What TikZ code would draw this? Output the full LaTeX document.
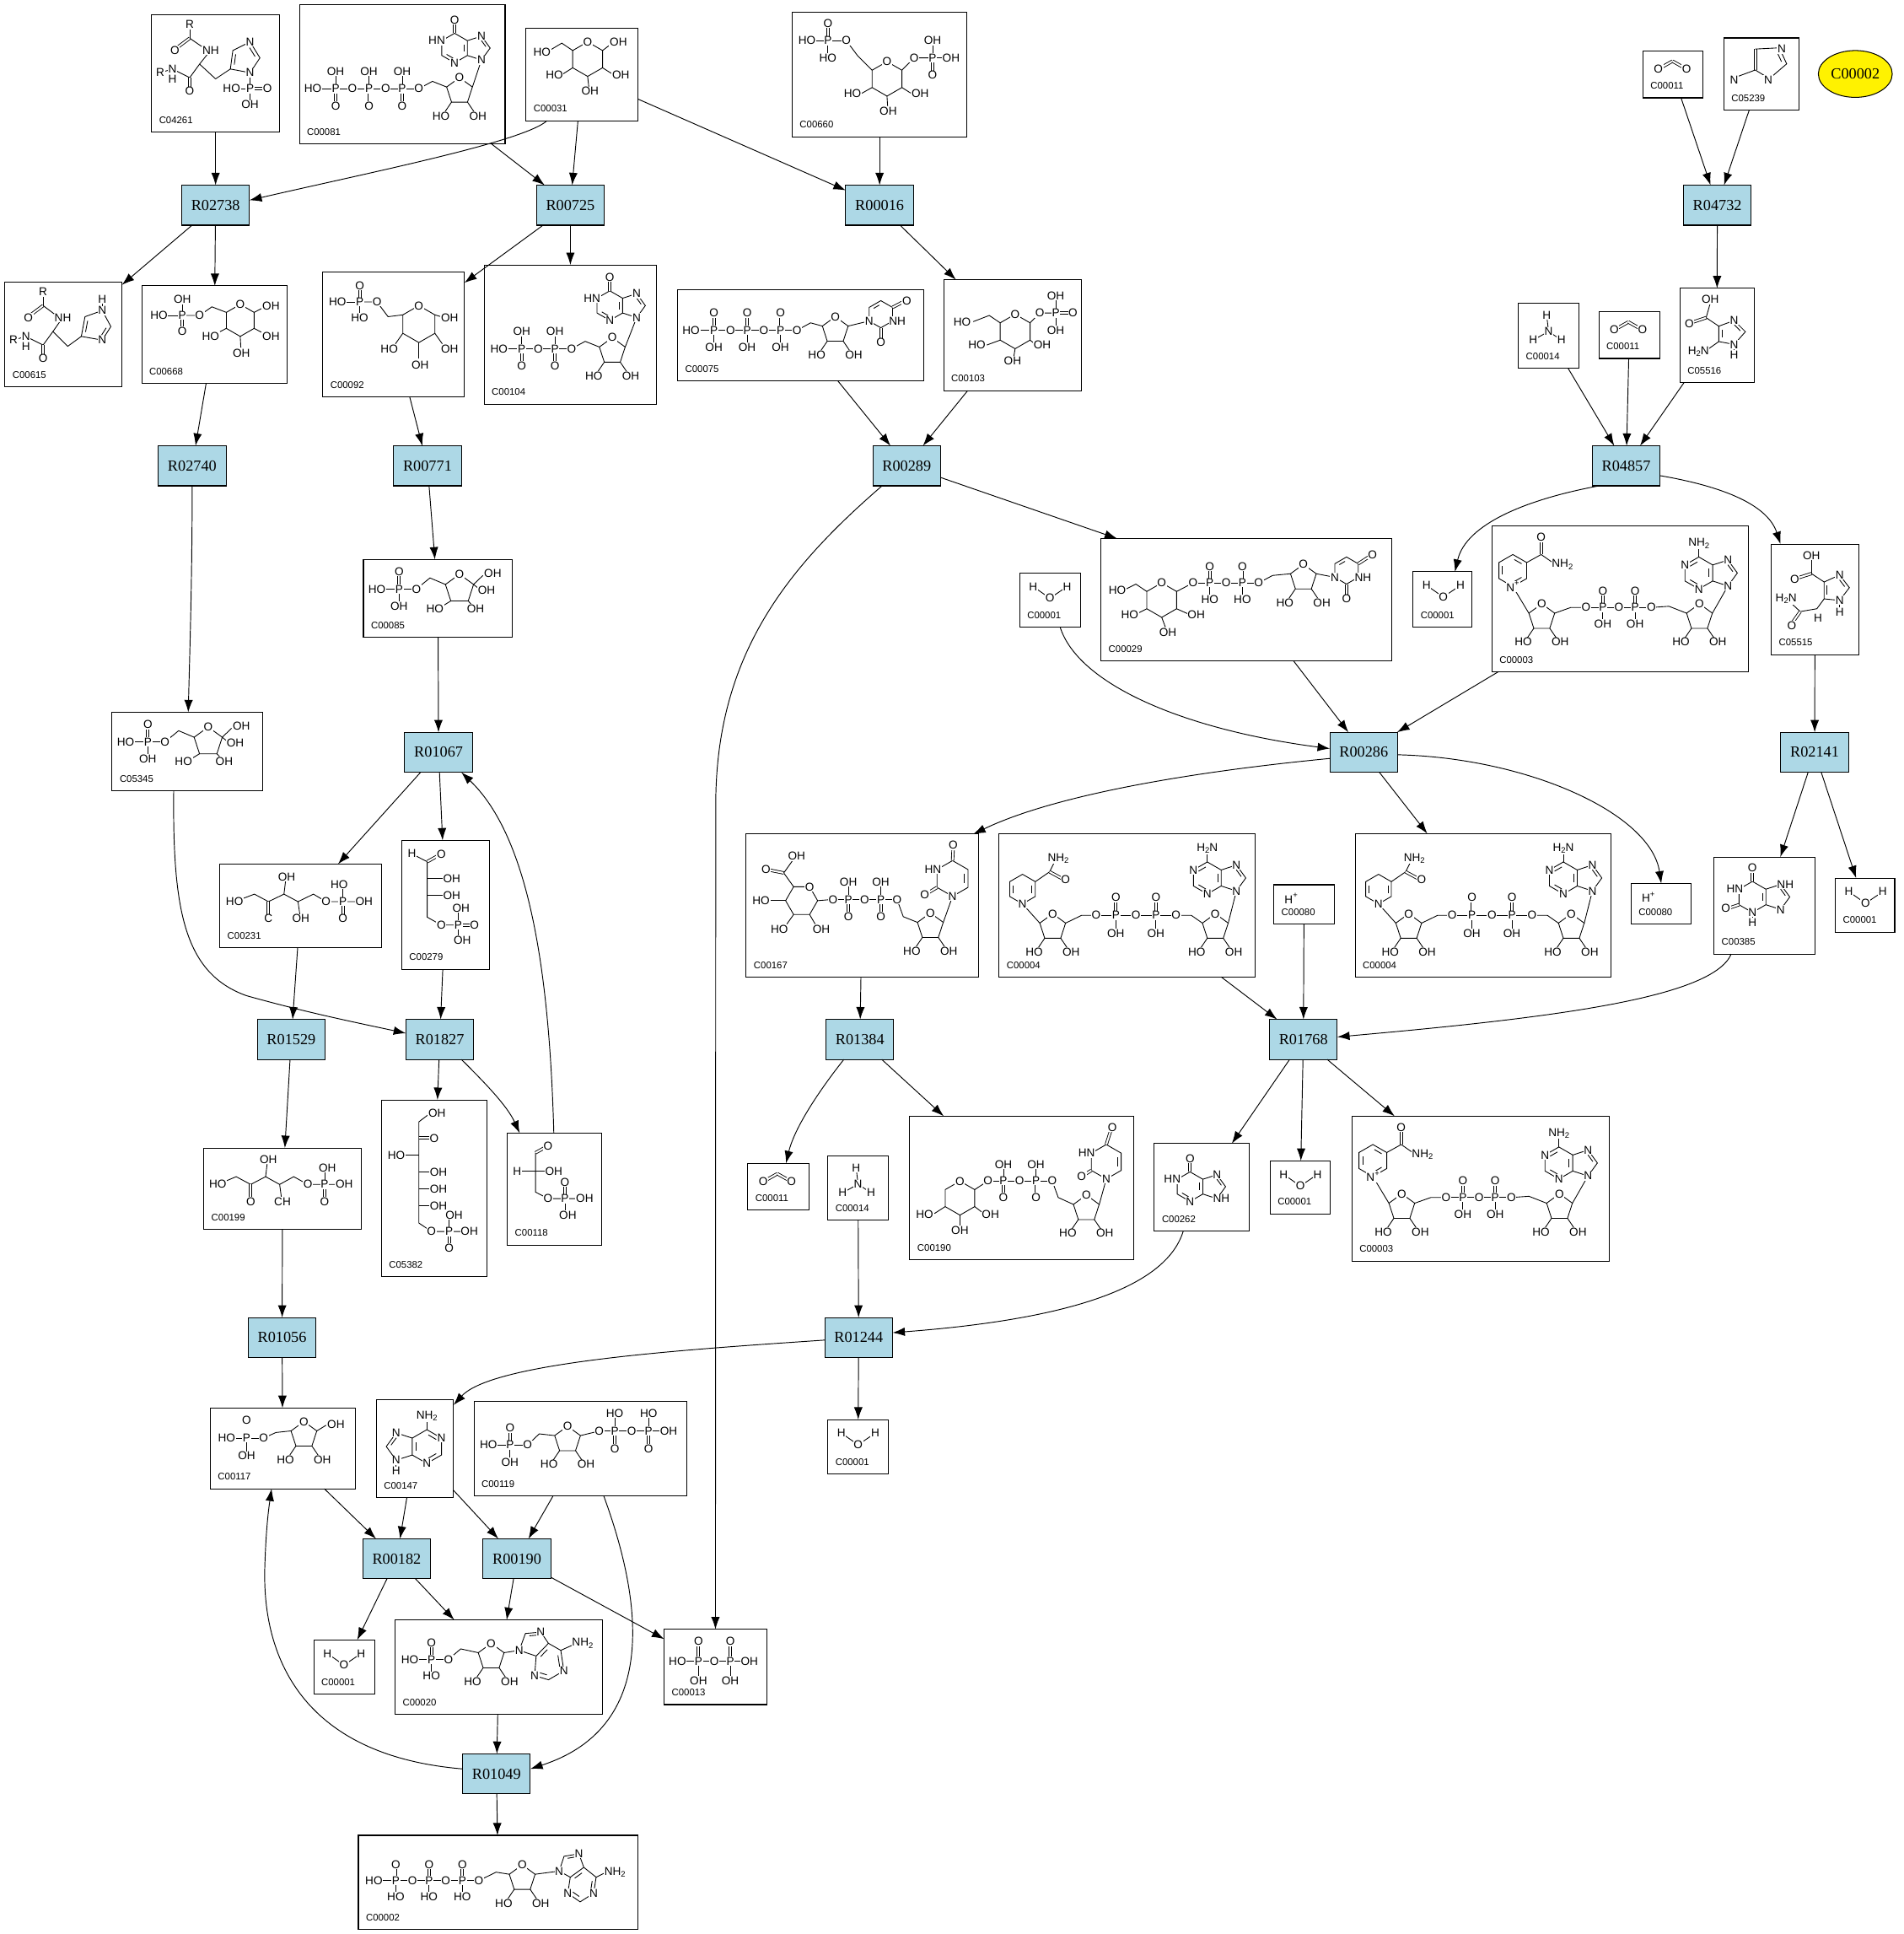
\documentclass[tikz,border=0pt]{standalone}
\usepackage{fontspec}
\setmainfont{Liberation Serif}
\newfontfamily\atomfam{Liberation Sans}
\usetikzlibrary{arrows.meta,calc,shapes.geometric}
\definecolor{rxnblue}{HTML}{ADD8E6}
\tikzset{
  atom/.style={font=\atomfam\fontsize{9.3}{9.3}\selectfont, inner sep=0.5pt, fill=white},
  bond/.style={line width=0.6pt},
  cbox/.style={draw, line width=0.7pt, inner sep=0pt, outer sep=0pt},
  cid/.style={font=\atomfam\fontsize{7.8}{7.8}\selectfont, inner sep=0pt},
  rxn/.style={draw, line width=0.7pt, fill=rxnblue, minimum width=55pt, minimum height=32.5pt, inner sep=0pt, outer sep=0pt, font=\fontsize{12.5}{12.5}\selectfont},
  edge/.style={line width=0.65pt, -{Latex[length=10pt,width=7pt]}},
}
\newcommand\subs[1]{\raisebox{-0.35ex}{\fontsize{6.5}{6.5}\selectfont #1}}
\newcommand\sups[1]{\raisebox{0.9ex}{\fontsize{6.5}{6.5}\selectfont #1}}
\newcommand\realA[3]{\node[atom] at ({#1},{#2}) {#3};}
\newcommand\realAw[3]{\node[atom,anchor=west] at ({#1},{#2}) {#3};}
\newcommand\realAe[3]{\node[atom,anchor=east] at ({#1},{#2}) {#3};}
\newcommand\realB[1]{\draw[bond] #1;}
\newcommand\realBi[1]{\draw[bond,shorten <=1.4pt,shorten >=1.4pt] #1;}
\newcommand\realBD[1]{\draw[bond,double,double distance=1.4pt] #1;}
\def\gobthree#1#2#3{}
\def\gobone#1{}
\let\A\realA \let\Aw\realAw \let\Ae\realAe \let\B\realB \let\BD\realBD \let\Bi\realBi
\newcommand\drawmol[3]{\begin{scope}[shift={(#1,#2)}]%
  \let\A\gobthree\let\Aw\gobthree\let\Ae\gobthree\let\B\realB\let\BD\realBD\let\Bi\realBi #3%
  \let\A\realA\let\Aw\realAw\let\Ae\realAe\let\B\gobone\let\BD\gobone\let\Bi\gobone #3%
  \end{scope}}
\newcommand\hexr[3]{\B{(#1,#2) +(-90:#3) -- +(-30:#3) -- +(30:#3) -- +(90:#3) -- +(150:#3) -- +(210:#3) -- cycle}}
\newcommand\hexf[3]{\B{(#1,#2) +(0:#3) -- +(60:#3) -- +(120:#3) -- +(180:#3) -- +(240:#3) -- +(300:#3) -- cycle}}
\newcommand\pentr[3]{\B{(#1,#2) +(-90:#3) -- +(-18:#3) -- +(54:#3) -- +(126:#3) -- +(198:#3) -- cycle}}
% inner (aromatic) line of a pointy-top hexagon edge from angle #4 to #4+60
\newcommand\hexin[4]{\Bi{($(#1,#2)+(#4:{0.74*#3})$) -- ($(#1,#2)+({#4+60}:{0.74*#3})$)}}
% inner line of edge (#1,#2)-(#3,#4) toward centre (#5,#6)
\newcommand\segin[6]{\Bi{($(#1,#2)!0.26!(#5,#6)$) -- ($(#3,#4)!0.26!(#5,#6)$)}}
\def\lblO{O}
\def\lastlabel{O}
\def\lastshift{0}
\newcommand\pvert[5]{%
  \def\tmpa{#4}\ifx\tmpa\lblO\BD{({#1},{#2})--({#1},{#2-#3})}\else\B{({#1},{#2})--({#1},{#2-#3})}\fi
  \def\tmpa{#5}\ifx\tmpa\lblO\BD{({#1},{#2})--({#1},{#2+#3})}\else\B{({#1},{#2})--({#1},{#2+#3})}\fi
  \A{#1}{#2}{P}\A{#1}{#2-#3}{#4}\A{#1}{#2+#3}{#5}}
% xfirst xP1 y n spacing first top bottom dy
\newcommand\pchain[9]{%
  \B{({#1},{#3})--({#2+#5*(#4-1)+#5/2},{#3})}%
  \A{#1}{#3}{#6}%
  \foreach \kk in {1,...,#4}{%
    \pgfmathsetmacro\px{#2+#5*(\kk-1)}%
    \pgfmathsetmacro\ox{#2+#5*(\kk-1)+#5/2}%
    \pvert{\px}{#3}{#9}{#7}{#8}%
    \ifnum\kk=#4\relax\A{\ox+\lastshift}{#3}{\lastlabel}\else\A{\ox}{#3}{O}\fi}}
\newcommand\ribose[2]{%
  \pentr{#1}{#2}{11}%
  \A{#1}{#2-11}{O}%
  \B{({#1-6.5},{#2+8.9})--({#1-12},{#2+17})}\B{({#1+6.5},{#2+8.9})--({#1+12},{#2+17})}%
  \A{#1-15}{#2+20}{HO}\A{#1+15}{#2+20}{OH}}
% cx cy r s top N1 N3 N7 N9
\newcommand\purine[9]{%
  \hexr{#1}{#2}{#3}%
  \B{({#1+(#4)*0.866*#3},{#2-0.5*#3}) -- ({#1+(#4)*1.817*#3},{#2-0.809*#3}) -- ({#1+(#4)*2.405*#3},{#2}) -- ({#1+(#4)*1.817*#3},{#2+0.809*#3}) -- ({#1+(#4)*0.866*#3},{#2+0.5*#3})}%
  \segin{{#1+(#4)*1.817*#3}}{{#2-0.809*#3}}{{#1+(#4)*2.405*#3}}{#2}{{#1+(#4)*1.554*#3}}{#2}%
  \def\tmpb{#5}\ifx\tmpb\lblO\BD{({#1},{#2-#3})--({#1},{#2-#3-9})}\else\B{({#1},{#2-#3})--({#1},{#2-#3-9})}\fi
  \A{#1}{#2-#3-11}{#5}%
  \A{#1-(#4)*0.866*#3}{#2-0.5*#3}{#6}%
  \A{#1}{#2+#3}{#7}%
  \A{#1+(#4)*1.817*#3}{#2-0.809*#3}{#8}%
  \A{#1+(#4)*1.817*#3}{#2+0.809*#3}{#9}}
\newcommand\cbox[6]{%
  \node[cbox,anchor=north west,minimum width={#4-#2},minimum height={#5-#3}] (#1) at (#2,#3) {};
  \node[cid,anchor=base west] at ({#2+6},{#5-7}) {#6};}
\newcommand\water{\B{(11,11)--(24.5,20.5)--(38.5,11)}\A{11}{11}{H}\A{24.5}{20.5}{O}\A{38.5}{11}{H}}
\newcommand\cotwo{\BD{(12.5,15)--(24,8.5)}\BD{(24,8.5)--(35.5,15)}\A{12.5}{15}{O}\A{35.5}{15}{O}}
\newcommand\ammonia{\B{(23,10)--(24.5,23)}\B{(24.5,23)--(12,30)}\B{(24.5,23)--(35,30)}\A{23}{10}{H}\A{24.5}{23}{N}\A{12}{30}{H}\A{35}{30}{H}}
\newcommand\Water[5]{\cbox{#1}{#2}{#3}{#4}{#5}{C00001}\drawmol{#2}{#3}{\water}}
\newcommand\Cotwo[5]{\cbox{#1}{#2}{#3}{#4}{#5}{C00011}\drawmol{#2}{#3}{\cotwo}}
\newcommand\Ammonia[5]{\cbox{#1}{#2}{#3}{#4}{#5}{C00014}\drawmol{#2}{#3}{\ammonia}}
\newcommand\Hplus[5]{\cbox{#1}{#2}{#3}{#4}{#5}{C00080}\drawmol{#2}{#3}{\A{14}{11}{H\sups{+}}}}
\newcommand\fructose{%
  \pvert{29}{24}{14}{O}{OH}\B{(11,24)--(29,24)}\A{11}{24}{HO}\B{(29,24)--(43,24)}\A{43}{24}{O}%
  \B{(43,24)--(54,15)--(66.6,20.3)}%
  \pentr{78}{24}{12}\A{78}{12}{O}%
  \B{(89.4,20.3)--(97,13)}\A{105}{11}{OH}%
  \B{(89.4,20.3)--(94,24)}\A{100}{25}{OH}%
  \B{(70.9,33.7)--(64,38)}\A{58}{40}{HO}%
  \B{(85.1,33.7)--(88,37)}\A{91}{40}{OH}}
\newcommand\nadplus{%
  \hexr{17}{36}{13}\hexin{17}{36}{13}{150}\hexin{17}{36}{13}{-90}\hexin{17}{36}{13}{30}\A{17}{49}{N\sups{+}}%
  \B{(28.3,29.5)--(40,23)}\BD{(40,23)--(40,11)}\A{40}{9}{O}\B{(40,23)--(50,30)}\Aw{48}{31}{NH\subs{2}}%
  \B{(17,49)--(30,70.6)}%
  \ribose{40.5}{74}%
  \B{(51,70.6)--(64,66)--(76.4,66)}%
  \pchain{76.4}{90.1}{66}{2}{26.2}{O}{O}{OH}{13.5}%
  \B{(129.4,66)--(143.7,65)--(158,70.6)}%
  \ribose{168.5}{74}%
  \purine{168}{38}{13}{1}{NH\subs{2}}{N}{N}{N}{N}%
  \hexin{168}{38}{13}{210}\hexin{168}{38}{13}{90}\hexin{168}{38}{13}{-30}%
  \B{(191.6,48.5)--(179,70.6)}}
\newcommand\nadh{%
  \hexr{19}{45}{12}\hexin{19}{45}{12}{150}\hexin{19}{45}{12}{-30}\A{19}{57}{N}%
  \B{(29.4,39)--(41,31)}\B{(41,31)--(45,23)}\A{48}{20}{NH\subs{2}}\BD{(41,31)--(52,37)}\A{54}{37}{O}%
  \B{(19,57)--(33,72.6)}%
  \ribose{43.5}{76}%
  \B{(54,72.6)--(67,66.3)--(78.8,66.3)}%
  \pchain{78.8}{94.8}{66.3}{2}{32.5}{O}{O}{OH}{14.5}%
  \B{(143.55,66.3)--(156,66.3)--(165,72.6)}%
  \ribose{175.5}{76}%
  \purine{169}{36}{13}{1}{H\subs{2}N}{N}{N}{N}{N}%
  \hexin{169}{36}{13}{210}\hexin{169}{36}{13}{90}\hexin{169}{36}{13}{-30}%
  \B{(192.6,46.5)--(186,72.6)}}
\begin{document}
\begin{tikzpicture}[x=1pt,y=-1pt]
\fill[white] (0,0) rectangle (1545,1569.5);
\useasboundingbox (0,0) rectangle (1545,1569.5);

% ---------------- reactions
\node[rxn] (r02738) at (175,166.5) {R02738};
\node[rxn] (r00725) at (463,166.5) {R00725};
\node[rxn] (r00016) at (714,166.5) {R00016};
\node[rxn] (r04732) at (1394,166.5) {R04732};
\node[rxn] (r02740) at (156,378) {R02740};
\node[rxn] (r00771) at (347,378) {R00771};
\node[rxn] (r00289) at (736,378) {R00289};
\node[rxn] (r04857) at (1320,378) {R04857};
\node[rxn] (r01067) at (356,610.5) {R01067};
\node[rxn] (r00286) at (1107,610.5) {R00286};
\node[rxn] (r02141) at (1473,610.5) {R02141};
\node[rxn] (r01529) at (236.4,843.5) {R01529};
\node[rxn] (r01827) at (357,843.5) {R01827};
\node[rxn] (r01384) at (698,843.5) {R01384};
\node[rxn] (r01768) at (1058,843.5) {R01768};
\node[rxn] (r01056) at (229,1085.5) {R01056};
\node[rxn] (r01244) at (697,1085.5) {R01244};
\node[rxn] (r00182) at (322,1265) {R00182};
\node[rxn] (r00190) at (419.6,1265) {R00190};
\node[rxn] (r01049) at (403,1439.5) {R01049};
\node[draw, line width=0.7pt, ellipse, fill=yellow, minimum width=60pt, minimum height=38pt, inner sep=0pt, font=\fontsize{12.5}{12.5}\selectfont] (c00002y) at (1506,60) {C00002};

% ---------------- compounds
\cbox{c04261}{123}{12}{227}{107}{C04261}
\drawmol{123}{12}{%
 \B{(31,9)--(31,19)}\BD{(31,19)--(19,28)}\B{(31,19)--(44,28)}\B{(47,30)--(39,40)}\B{(39,40)--(31,51)}%
 \B{(31,51)--(17,44)}\B{(17,44)--(7,47)}\BD{(31,51)--(31,62)}\B{(39,40)--(52,52)--(64,44)}%
 \B{(64,44)--(66,29)--(80,22)--(88,35)--(80,47)--cycle}\segin{64}{44}{66}{29}{75.6}{35.4}\segin{80}{22}{88}{35}{75.6}{35.4}%
 \B{(80,47)--(80,60)}\B{(65,60)--(80,60)}\BD{(80,60)--(94,60)}\B{(80,60)--(80,73)}%
 \A{31}{8}{R}\A{19}{29}{O}\A{48}{29}{NH}\A{7}{47}{R}\A{17}{44}{N}\A{17}{52}{H}\A{31}{62}{O}%
 \A{80}{22}{N}\A{80}{47}{N}\A{65}{60}{HO}\A{80}{60}{P}\A{94}{60}{O}\A{80}{73}{OH}}

\cbox{c00081}{243}{4}{410}{117}{C00081}
\drawmol{243}{4}{%
 \pchain{11}{29.5}{68}{3}{27}{HO}{OH}{O}{14}%
 \B{(97,68)--(108,62)--(119.5,66.6)}%
 \ribose{130}{70}%
 \purine{126}{35}{12}{1}{O}{}{N}{N}{N}%
 \hexin{126}{35}{12}{90}\hexin{126}{35}{12}{-30}%
 \Ae{119}{29}{HN}%
 \B{(147.8,44.7)--(140.5,66.6)}}

\cbox{c00031}{427}{23}{518}{98}{C00031}
\drawmol{427}{23}{%
 \hexr{50}{25}{14}\A{50}{11}{O}%
 \B{(37.9,18)--(29,12)--(19,18)}\A{13}{19}{HO}%
 \B{(62.1,18)--(70,12)}\A{75}{11}{OH}%
 \B{(62.1,32)--(70,37)}\A{77}{38}{OH}%
 \B{(37.9,32)--(30,37)}\A{23}{38}{HO}%
 \B{(50,39)--(51,48)}\A{52}{51}{OH}}

\cbox{c00660}{643}{10}{785}{111}{C00660}
\drawmol{643}{10}{%
 \pvert{29}{23}{14}{O}{HO}\B{(12,23)--(29,23)}\A{12}{23}{HO}\B{(29,23)--(44,23)}\A{44}{23}{O}%
 \B{(44,23)--(53,35)--(64.9,47)}%
 \hexr{77}{54}{14}\A{77}{40}{O}%
 \B{(89.1,47)--(99,37)--(114,37)}\A{99}{37}{O}%
 \pvert{114}{37}{14}{OH}{O}\B{(114,37)--(129,37)}\A{129}{37}{OH}%
 \B{(64.9,61)--(56,66)}\A{49}{66}{HO}%
 \B{(89.1,61)--(97,66)}\A{104}{66}{OH}%
 \B{(77,68)--(77.5,76)}\A{78}{80}{OH}}

\Cotwo{c00011a}{1333.6}{41.1}{1382.6}{79.4}

\cbox{c05239}{1399.3}{30.8}{1460}{89.5}{C05239}
\drawmol{1399.3}{30.8}{%
 \BD{(25.5,9)--(25.5,26)}%
 \B{(25.5,9)--(45,8)--(51,21)--(37,33)--(25.5,26)}%
 \segin{45}{8}{51}{21}{37}{19}%
 \B{(12,31)--(25.5,26)}%
 \A{47}{9}{N}\A{36}{34}{N}\A{8.4}{34}{N}}

\cbox{c00615}{4}{229}{99}{314}{C00615}
\drawmol{4}{229}{%
 \B{(31,9)--(31,19)}\BD{(31,19)--(19,28)}\B{(31,19)--(43,28)}\B{(46,30)--(39,40)}\B{(39,40)--(31,51)}%
 \B{(31,51)--(17,44)}\B{(17,44)--(7,47)}\BD{(31,51)--(31,62)}\B{(39,40)--(51,52)--(62,44)}%
 \B{(62,44)--(65,28)--(79,23)--(86,36)--(79,47)--cycle}\segin{62}{44}{65}{28}{74.2}{35.6}\segin{86}{36}{79}{47}{74.2}{35.6}%
 \B{(79,23)--(79,15)}%
 \A{31}{8}{R}\A{19}{29}{O}\A{47}{29}{NH}\A{7}{47}{R}\A{17}{44}{N}\A{17}{52}{H}\A{31}{62}{O}%
 \A{79}{23}{N}\A{79}{14}{H}\A{79}{47}{N}}

\cbox{c00668}{115}{232}{233}{311}{C00668}
\drawmol{115}{232}{%
 \pvert{33}{24}{13}{OH}{O}\B{(14,24)--(33,24)}\A{14}{24}{HO}%
 \B{(33,24)--(47,24)--(57,17)--(68.7,21.5)}\A{47}{24}{O}%
 \hexr{80}{28}{13}\A{80}{15}{O}%
 \B{(91.3,21.5)--(98,18)}\A{105}{16}{OH}%
 \B{(91.3,34.5)--(98,38)}\A{105}{41}{OH}%
 \B{(80,41)--(80.5,50)}\A{81}{55}{OH}%
 \B{(68.7,34.5)--(62,38)}\A{56}{41}{HO}}

\cbox{c00092}{262}{221}{377}{322}{C00092}
\drawmol{262}{221}{%
 \pvert{30}{24}{13}{O}{HO}\B{(12,24)--(30,24)}\A{12}{24}{HO}%
 \B{(30,24)--(44,24)--(53,36)--(65,34.5)}\A{44}{24}{O}%
 \hexr{78}{42}{15}\A{78}{27}{O}%
 \B{(91,34.5)--(96,36)}\A{103}{37}{OH}%
 \B{(91,49.5)--(97,58)}\A{103}{62}{OH}%
 \B{(78,57)--(78,70)}\A{79}{75}{OH}%
 \B{(65,49.5)--(59,58)}\A{54}{62}{HO}}

\cbox{c00104}{393}{215}{533}{328}{C00104}
\drawmol{393}{215}{%
 \pchain{12}{30.5}{68}{2}{27}{HO}{OH}{O}{14}%
 \B{(71,68)--(82,62)--(93.5,66.6)}%
 \ribose{104}{70}%
 \purine{102}{33}{12}{1}{O}{}{N}{N}{N}%
 \hexin{102}{33}{12}{90}\hexin{102}{33}{12}{-30}%
 \Ae{95}{27}{HN}%
 \B{(123.8,42.7)--(114.5,66.6)}}

\cbox{c00075}{550}{235}{750}{309}{C00075}
\drawmol{550}{235}{%
 \pchain{11}{29.5}{33}{3}{27}{HO}{O}{OH}{14}%
 \B{(97,33)--(108,27)--(117.5,29.6)}%
 \ribose{128}{33}%
 \hexr{165}{20}{11}\hexin{165}{20}{11}{210}%
 \B{(138.5,29.6)--(155.5,25.5)}\A{155.5}{25.5}{N}%
 \BD{(165,31)--(165,40)}\A{165}{43}{O}%
 \Aw{171}{25.5}{NH}%
 \BD{(174.5,14.5)--(183,10)}\A{186}{9}{O}}

\cbox{c00103}{766}{227}{878}{317}{C00103}
\drawmol{766}{227}{%
 \hexr{58}{42}{14}\A{58}{28}{O}%
 \B{(70.1,35)--(78,27)--(91,27)}\A{78}{27}{O}%
 \pvert{91}{27}{14}{OH}{OH}\BD{(91,27)--(105,27)}\A{105}{27}{O}%
 \B{(45.9,35)--(37,29)--(24,34)}\A{15}{34}{HO}%
 \B{(45.9,49)--(35,53)}\A{27}{53}{HO}%
 \B{(70.1,49)--(74,52)}\A{80}{53}{OH}%
 \B{(58,56)--(57,62)}\A{56}{66}{OH}}

\Ammonia{c00014a}{1232.5}{246}{1281.8}{298.9}
\Cotwo{c00011b}{1297.8}{252.8}{1347.3}{290.9}

\cbox{c05516}{1363.7}{233.9}{1423.7}{310.3}{C05516}
\drawmol{1363.7}{233.9}{%
 \B{(21.2,23.9)--(24.6,12)}\BD{(21.2,23.9)--(9,28)}\B{(21.2,23.9)--(31.5,30.8)}%
 \B{(31.5,30.8)--(44,26.2)--(53.1,35.3)--(44,45.6)--(31.5,43.3)--cycle}%
 \segin{31.5}{30.8}{31.5}{43.3}{41}{36.2}\segin{44}{26.2}{53.1}{35.3}{41}{36.2}%
 \B{(44,45.6)--(44,52)}\B{(31.5,43.3)--(22,50)}%
 \A{24.6}{9.1}{OH}\A{7.5}{28.5}{O}\A{44}{26.2}{N}\A{44}{45.6}{N}\A{44}{54}{H}\A{15}{51.3}{H\subs{2}N}}

\cbox{c00085}{295}{454}{416}{517}{C00085}
\drawmol{295}{454}{\fructose}

\Water{c00001a}{827.7}{465}{877.3}{508.8}

\cbox{c00029}{893.7}{437}{1130}{536.2}{C00029}
\drawmol{892}{437}{%
 \hexr{51}{50}{14}\A{51}{36}{O}%
 \B{(38.9,43)--(30,37)--(22,41)}\A{15}{42}{HO}%
 \B{(38.9,57)--(31,61)}\A{25}{62}{HO}%
 \B{(63.1,57)--(72,61)}\A{79}{62}{OH}%
 \B{(51,64)--(54,72)}\A{56}{76}{OH}%
 \B{(63.1,43)--(76.5,36)}%
 \pchain{76.5}{90}{36}{2}{26.5}{O}{O}{HO}{13.5}%
 \B{(129.75,36)--(141,30)--(155.5,28.6)}%
 \ribose{166}{32}%
 \hexr{201}{26}{11}\hexin{201}{26}{11}{210}%
 \B{(176.5,28.6)--(191.5,31.5)}\A{191.5}{31.5}{N}%
 \BD{(201,37)--(201,47)}\A{201}{49}{O}%
 \Aw{207}{31.5}{NH}%
 \BD{(210.5,20.5)--(219,15)}\A{222}{13}{O}}

\Water{c00001b}{1147}{464}{1195}{509}

\cbox{c00003a}{1211}{427}{1419}{545}{C00003}
\drawmol{1211}{427}{\nadplus}

\cbox{c05515}{1437.8}{441.5}{1508.8}{531.2}{C05515}
\drawmol{1437.8}{441.5}{%
 \B{(32.6,24)--(32.6,12)}\BD{(32.6,24)--(20,28)}\B{(32.6,24)--(42.9,30.8)}%
 \B{(42.9,30.8)--(55.5,25.1)--(63.4,35.4)--(55.5,45.7)--(42.9,44.5)--cycle}%
 \segin{42.9}{30.8}{42.9}{44.5}{52}{36.3}\segin{55.5}{25.1}{63.4}{35.4}{52}{36.3}%
 \B{(55.5,45.7)--(55.5,52)}%
 \B{(42.9,44.5)--(37,52.5)--(23.5,54.8)--(14,46)}\BD{(23.5,54.8)--(17,64)}%
 \A{32.6}{9.1}{OH}\A{19}{28.5}{O}\A{55.5}{25.1}{N}\A{55.5}{45.7}{N}\A{55.5}{55}{H}%
 \A{12}{44.5}{H\subs{2}N}\A{16.7}{66.2}{O}\A{38}{60}{H}}

\cbox{c05345}{91}{578}{213}{642}{C05345}
\drawmol{91}{578}{\fructose}

\cbox{c00231}{178.4}{701.2}{309.6}{768.9}{C00231}
\drawmol{178.4}{701.2}{%
 \B{(12.1,30.5)--(28.1,24.4)--(39.5,30.5)--(52.1,24.4)--(63.5,30.5)--(76,24.4)--(86.3,30.5)--(100,30.5)--(117.1,30.5)}%
 \BD{(39.5,30.5)--(39.5,44.4)}\B{(52.1,24.4)--(53.5,13)}\B{(63.5,30.5)--(65,41)}%
 \B{(100,30.5)--(100,18)}\BD{(100,30.5)--(100,44.4)}%
 \A{12}{30.5}{HO}\A{39.5}{44.4}{C}\A{54.3}{10.2}{OH}\A{65.8}{44.4}{OH}\A{86.3}{30.5}{O}%
 \A{100}{30.5}{P}\A{97}{16.4}{HO}\A{117.1}{30.5}{OH}\A{100}{44.4}{O}}

\cbox{c00279}{326.1}{682}{397.2}{786.5}{C00279}
\drawmol{326.1}{682}{%
 \B{(8.2,10.9)--(20.7,17.3)}\BD{(20.7,17.3)--(32.1,10.9)}%
 \B{(20.7,17.3)--(20.7,62.3)--(32.1,68.7)--(45.8,68.7)}%
 \B{(20.7,31)--(34,31)}\B{(20.7,44.7)--(34,44.7)}%
 \B{(45.8,68.7)--(45.8,55)}\BD{(45.8,68.7)--(59,68.7)}\B{(45.8,68.7)--(45.8,81.2)}%
 \A{8.2}{10.9}{H}\A{32.1}{10.9}{O}\Aw{33}{31}{OH}\Aw{33}{44.7}{OH}%
 \A{32.1}{68.7}{O}\A{45.8}{68.7}{P}\A{48.1}{55}{OH}\A{59}{68.7}{O}\A{49.2}{81.2}{OH}}

\cbox{c00167}{605.7}{676.9}{794}{792.8}{C00167}
\drawmol{605.7}{676.9}{%
 \hexf{45}{54}{13}\A{51.5}{42.7}{O}%
 \B{(38.5,42.7)--(30.5,31.5)}\BD{(30.5,31.5)--(18,29)}\A{16}{29}{O}\B{(30.5,31.5)--(38,21)}\A{41}{18}{OH}%
 \B{(32,54)--(20,54)}\A{12}{54}{HO}%
 \B{(38.5,65.3)--(33,73)}\A{27}{77}{HO}%
 \B{(51.5,65.3)--(56,73)}\A{61}{77}{OH}%
 \B{(58,54)--(70.5,53)}%
 \pchain{70.5}{83}{53}{2}{26.3}{O}{OH}{O}{14}%
 \B{(122.45,53)--(127.5,67)--(139,71.6)}%
 \ribose{149.5}{75}%
 \hexr{167.5}{36}{14.5}\hexin{167.5}{36}{14.5}{-30}%
 \BD{(167.5,21.5)--(168,12)}\A{168}{9}{O}%
 \Ae{159}{28.75}{HN}%
 \BD{(155,43.25)--(147,48)}\A{145}{49}{O}%
 \A{167.5}{50.5}{N}%
 \B{(167.5,50.5)--(160,71.6)}}

\cbox{c00004a}{811}{676.5}{1018.7}{792.8}{C00004}
\drawmol{811}{676.5}{\nadh}

\Hplus{c00080a}{1034}{718}{1083}{750}

\cbox{c00004b}{1100}{676.5}{1307.7}{792.8}{C00004}
\drawmol{1100}{676.5}{\nadh}

\Hplus{c00080b}{1324}{717}{1373}{750}

\cbox{c00385}{1391.3}{695.5}{1473.2}{774.2}{C00385}
\drawmol{1391.3}{695.5}{%
 \purine{31.2}{32.4}{12.6}{1}{O}{}{N}{}{N}%
 \hexin{31.2}{32.4}{12.6}{-30}%
 \Ae{24.3}{26.1}{HN}%
 \BD{(20.3,38.7)--(12,41.5)}\A{9.6}{41.5}{O}%
 \B{(31.2,45)--(31.2,50)}\A{31.2}{53}{H}%
 \Aw{50.5}{22.2}{NH}}

\Water{c00001c}{1489.8}{712.6}{1538}{756.4}

\cbox{c00199}{165.4}{931.6}{293.2}{997.5}{C00199}
\drawmol{165.4}{931.6}{%
 \B{(11.4,29.6)--(26.3,23.3)--(38.1,29.6)--(50.2,23.3)--(61.6,29.6)--(73,23.3)--(84.5,29.6)--(98.1,29.6)--(114.1,29.6)}%
 \BD{(38.1,29.6)--(38.1,43.3)}\B{(50.2,23.3)--(51.5,12.5)}\B{(61.6,29.6)--(63,40)}%
 \B{(98.1,29.6)--(98.1,16)}\BD{(98.1,29.6)--(98.1,43.3)}%
 \A{11.4}{29.6}{HO}\A{38.1}{43.3}{O}\A{52.5}{9.1}{OH}\A{63.9}{43.3}{CH}\A{84.5}{29.6}{O}%
 \A{98.1}{29.6}{P}\A{100.4}{16}{OH}\A{114.1}{29.6}{OH}\A{98.1}{43.3}{O}}

\cbox{c05382}{309.6}{892.6}{395.2}{1036}{C05382}
\drawmol{309.6}{892.6}{%
 \B{(40,10.5)--(30.4,17.8)--(30.4,99.9)--(40.6,106.8)--(55,106.8)--(71.4,106.8)}%
 \BD{(30.4,31)--(42.9,31)}\B{(30.4,44.7)--(12.1,44.7)}%
 \B{(30.4,58.4)--(40,58.4)}\B{(30.4,72.1)--(40,72.1)}\B{(30.4,85.8)--(40,85.8)}%
 \B{(55,106.8)--(55,93.1)}\BD{(55,106.8)--(55,120.4)}%
 \A{45.2}{10.5}{OH}\A{42.9}{31}{O}\A{12.1}{44.7}{HO}%
 \A{46.3}{58.4}{OH}\A{46.3}{72.1}{OH}\A{46.3}{85.8}{OH}%
 \A{40.6}{106.8}{O}\A{55}{106.8}{P}\A{59}{93.6}{OH}\A{71.4}{106.8}{OH}\A{55}{120.4}{O}}

\cbox{c00118}{411.8}{919.5}{488.3}{1010.3}{C00118}
\drawmol{411.8}{919.5}{%
 \BD{(22.9,16)--(33.1,10.3)}%
 \B{(22.9,16)--(22.9,47.9)--(33.1,53.2)--(46.8,53.2)--(62.8,53.2)}%
 \B{(8,30.8)--(22.9,30.8)--(37.7,30.8)}%
 \BD{(46.8,53.2)--(46.8,39.9)}\B{(46.8,53.2)--(46.8,66.8)}%
 \A{33.1}{10.3}{O}\A{8}{30.8}{H}\A{37.7}{30.8}{OH}\A{33.1}{53.2}{O}\A{46.8}{53.2}{P}%
 \A{46.8}{39.9}{O}\A{62.8}{53.2}{OH}\A{49.1}{66.8}{OH}}

\Cotwo{c00011c}{607}{944}{657}{982}
\Ammonia{c00014b}{672}{938}{721}{990}

\cbox{c00190}{738.5}{905.8}{920.6}{1022.1}{C00190}
\drawmol{738.5}{905.8}{%
 \hexr{40.7}{66.5}{13.8}\A{40.7}{52.7}{O}%
 \B{(52.7,59.6)--(63.5,52.5)}%
 \pchain{63.5}{76}{52.5}{2}{26.4}{O}{OH}{O}{13.2}%
 \B{(115.6,52.5)--(120.5,66)--(132.8,71.6)}%
 \ribose{143.3}{75}%
 \B{(28.7,73.4)--(20,79)}\A{12}{80}{HO}%
 \B{(52.7,73.4)--(60,79)}\A{65.5}{80}{OH}%
 \B{(40.7,80.3)--(40.7,89)}\A{40.7}{93}{OH}%
 \hexr{159.5}{37}{14}\hexin{159.5}{37}{14}{-30}%
 \BD{(159.5,23)--(163,12)}\A{164.5}{9}{O}%
 \Ae{151}{30}{HN}%
 \BD{(147.4,44)--(141,48)}\A{139.5}{49}{O}%
 \A{159.5}{51}{N}%
 \B{(159.5,51)--(153.8,71.6)}}

\cbox{c00262}{937}{928}{1014}{999}{C00262}
\drawmol{937}{928}{%
 \purine{29}{35}{12}{1}{O}{}{N}{N}{}%
 \hexin{29}{35}{12}{90}\hexin{29}{35}{12}{-30}%
 \Ae{22}{29}{HN}%
 \Aw{47}{44.7}{NH}}

\Water{c00001d}{1031}{942}{1080}{985}

\cbox{c00003b}{1097.4}{905.8}{1306.2}{1023.3}{C00003}
\drawmol{1097.4}{905.8}{\nadplus}

\Water{c00001e}{672}{1152}{721}{1196}

\cbox{c00117}{170.7}{1142.6}{288.2}{1208.1}{C00117}
\drawmol{170.7}{1142.6}{%
 \pvert{29.5}{24.4}{14.5}{O}{OH}\B{(13.3,24.4)--(29.5,24.4)}\A{13.3}{24.4}{HO}\B{(29.5,24.4)--(43.3,24.4)}\A{43.3}{24.4}{O}%
 \B{(43.3,24.4)--(53.3,19.9)--(65.5,18.6)}%
 \ribose{76}{22}%
 \B{(86.5,18.6)--(94,14)}\A{102}{13}{OH}}

\cbox{c00147}{305.5}{1136.2}{368.2}{1215.2}{C00147}
\drawmol{305.5}{1136.2}{%
 \purine{41}{37.7}{13.7}{-1}{NH\subs{2}}{N}{N}{N}{N}%
 \hexin{41}{37.7}{13.7}{-90}\hexin{41}{37.7}{13.7}{30}\hexin{41}{37.7}{13.7}{150}%
 \B{(16.1,48.8)--(16.1,54)}\A{16.1}{57.5}{H}}

\cbox{c00119}{384.7}{1137.4}{557.3}{1213.8}{C00119}
\drawmol{384.7}{1137.4}{%
 \pvert{29.3}{35.3}{13.8}{O}{OH}\B{(11.8,35.3)--(29.3,35.3)}\A{11.8}{35.3}{HO}\B{(29.3,35.3)--(43.5,35.3)}\A{43.5}{35.3}{O}%
 \B{(43.5,35.3)--(53,26.2)--(65.5,27.6)}%
 \ribose{76}{31}%
 \B{(86.5,27.6)--(101.8,23.9)}%
 \def\lastlabel{OH}\def\lastshift{2.6}%
 \pchain{101.8}{114.3}{23.9}{2}{27.5}{O}{HO}{O}{14.2}}

\Water{c00001f}{254.7}{1330.8}{304}{1374.6}

\cbox{c00020}{320.7}{1314.6}{489}{1391.3}{C00020}
\drawmol{320.7}{1314.6}{%
 \pvert{29.5}{32}{13.5}{O}{HO}\B{(12,32)--(29.5,32)}\A{12}{32}{HO}\B{(29.5,32)--(43.3,32)}\A{43.3}{32}{O}%
 \B{(43.3,32)--(53.3,23.5)--(67.5,26.6)}%
 \ribose{78}{30}%
 \B{(88.5,26.6)--(100.8,24.7)}%
 \B{(100.8,24.7)--(105.8,11)--(118.3,9.9)--(124.5,19)--(114.5,29.3)--cycle}%
 \B{(114.5,29.3)--(113.3,45.2)--(124.5,48.6)--(137,41.3)--(134.5,24.7)--(124.5,19)}%
 \segin{105.8}{11}{118.3}{9.9}{112.7}{18.8}%
 \segin{134.5}{24.7}{137}{41.3}{124.8}{34.8}\segin{124.5}{48.6}{113.3}{45.2}{124.8}{34.8}\segin{114.5}{29.3}{124.5}{19}{124.8}{34.8}%
 \B{(134.5,24.7)--(145,20)}%
 \A{100.8}{24.7}{N}\A{118.3}{9.9}{N}\A{113.3}{45.2}{N}\A{137}{41.3}{N}\Aw{143}{19}{NH\subs{2}}}

\cbox{c00013}{539.1}{1322.2}{622.4}{1383.3}{C00013}
\drawmol{539.1}{1322.2}{%
 \def\lastlabel{OH}\def\lastshift{2.6}%
 \pchain{10.8}{27.9}{25.8}{2}{25.8}{HO}{O}{OH}{16}}

\cbox{c00002}{290.9}{1489.4}{517.9}{1565.6}{C00002}
\drawmol{290.9}{1489.4}{%
 \pchain{12.6}{30.4}{36.7}{3}{27}{HO}{O}{HO}{13}%
 \B{(97.9,36.7)--(111.8,29.9)--(122.5,31.6)}%
 \ribose{133}{35}%
 \B{(143.5,31.6)--(163,29)}%
 \B{(163,29)--(167,17)--(179,15)--(183,26)--(172,34)--cycle}%
 \B{(172,34)--(170,47)--(180,54)--(191,47)--(193,34)--(183,26)}%
 \segin{167}{17}{179}{15}{172.8}{24.2}%
 \segin{193}{34}{191}{47}{181.5}{40.3}\segin{180}{54}{170}{47}{181.5}{40.3}\segin{172}{34}{183}{26}{181.5}{40.3}%
 \B{(193,34)--(201,30)}%
 \A{163}{29}{N}\A{179}{15}{N}\A{170}{47}{N}\A{191}{47}{N}\Aw{199}{30}{NH\subs{2}}}

% ---------------- edges
\draw[edge] (c04261) -- (r02738);
\draw[edge] ($(c00031.south west)+(17,0)$) .. controls (425,115) and (300,140) .. ($(r02738.east)+(0,-4)$);
\draw[edge] (c00081) -- (r00725);
\draw[edge] (c00031) -- (r00725);
\draw[edge] (c00031) -- (r00016);
\draw[edge] (c00660) -- (r00016);
\draw[edge] (c00011a) -- (r04732);
\draw[edge] (c05239) -- (r04732);
\draw[edge] (r02738) -- (c00615);
\draw[edge] (r02738) -- (c00668);
\draw[edge] (r00725) -- (c00092);
\draw[edge] (r00725) -- (c00104);
\draw[edge] (r00016) -- (c00103);
\draw[edge] (r04732) -- (c05516);
\draw[edge] (c00668) -- (r02740);
\draw[edge] (c00092) -- (r00771);
\draw[edge] (c00075) -- (r00289);
\draw[edge] (c00103) -- (r00289);
\draw[edge] (c00014a) -- (r04857);
\draw[edge] (c00011b) -- (r04857);
\draw[edge] (c05516) -- (r04857);
\draw[edge] (r02740) .. controls (156,470) and (154,530) .. (c05345);
\draw[edge] (r00771) -- (c00085);
\draw[edge] (r00289) -- ($(c00029.north west)+(13,0)$);
\draw[edge] ($(r00289.south)+(-20,0)$) .. controls (640,460) and (582,530) .. (581,650) -- (c00013.north);
\draw[edge] ($(r04857.south)+(-22,0)$) .. controls (1240,405) and (1190,425) .. ($(c00001b.north)+(10,0)$);
\draw[edge] ($(r04857.east)+(0,8)$) .. controls (1400,395) and (1435,410) .. ($(c05515.north)+(-28,0)$);
\draw[edge] (c00085) -- (r01067);
\draw[edge] ($(c05345.south west)+(50,0)$) .. controls (140,740) and (150,790) .. (200,808) .. controls (250,822) and (290,830) .. ($(r01827.west)+(0,-5)$);
\draw[edge] ($(c00001a.south)+(8,0)$) .. controls (875,555) and (960,592) .. ($(r00286.west)+(0,-3)$);
\draw[edge] (c00029) -- (r00286);
\draw[edge] (c00003a) -- (r00286);
\draw[edge] (c05515) -- (r02141);
\draw[edge] (r01067) -- (c00231);
\draw[edge] (r01067) -- (c00279);
\draw[edge] ($(c00118.north)+(-0.5,0)$) .. controls (446,790) and (430,680) .. ($(r01067.south east)+(-9,0)$);
\draw[edge] ($(r00286.west)+(0,5)$) .. controls (950,628) and (850,648) .. ($(c00167.north east)+(-4,0)$);
\draw[edge] (r00286) -- (c00004b);
\draw[edge] ($(r00286.east)+(0,2)$) .. controls (1240,615) and (1340,660) .. (c00080b.north);
\draw[edge] (r02141) -- (c00385);
\draw[edge] (r02141) -- (c00001c);
\draw[edge] (c00231) -- (r01529);
\draw[edge] (c00279) -- (r01827);
\draw[edge] (c00167) -- (r01384);
\draw[edge] (c00004a) -- (r01768);
\draw[edge] (c00080a) -- (r01768);
\draw[edge] ($(c00385.south west)+(14,0)$) .. controls (1390,810) and (1260,826) .. ($(r01768.east)+(0,-2)$);
\draw[edge] (r01529) -- (c00199);
\draw[edge] (r01827) -- (c05382);
\draw[edge] ($(r01827.south east)+(-10,0)$) .. controls (395,880) and (412,898) .. ($(c00118.north west)+(10,0)$);
\draw[edge] ($(r01384.south)+(-13,0)$) .. controls (665,885) and (645,915) .. ($(c00011c.north)+(6,0)$);
\draw[edge] (r01384) -- (c00190);
\draw[edge] (r01768) -- (c00262);
\draw[edge] (r01768) -- (c00001d);
\draw[edge] (r01768) -- (c00003b);
\draw[edge] (c00199) -- (r01056);
\draw[edge] (c00014b) -- (r01244);
\draw[edge] ($(c00262.south)+(-15,0)$) .. controls (945,1050) and (850,1072) .. ($(r01244.east)+(0,-4)$);
\draw[edge] ($(r01244.west)+(0,2)$) .. controls (560,1095) and (400,1105) .. ($(c00147.north east)+(0,4)$);
\draw[edge] (r01244) -- (c00001e);
\draw[edge] (r01056) -- (c00117);
\draw[edge] (c00117) -- (r00182);
\draw[edge] (c00147) -- (r00182);
\draw[edge] (c00147) -- (r00190);
\draw[edge] (c00119) -- (r00190);
\draw[edge] ($(c00119.south)+(19,0)$) .. controls (518,1290) and (540,1400) .. ($(r01049.east)+(0,-4)$);
\draw[edge] (r00182) -- (c00001f);
\draw[edge] (r00182) -- (c00020);
\draw[edge] (r00190) -- (c00020);
\draw[edge] (r00190) -- (c00013);
\draw[edge] (c00020) -- (r01049);
\draw[edge] ($(r01049.west)+(0,-4)$) .. controls (250,1425) and (212,1350) .. (215,1270) .. controls (216,1240) and (218,1225) .. ($(c00117.south)+(-9,0)$);
\draw[edge] (r01049) -- (c00002);
\end{tikzpicture}
\end{document}
